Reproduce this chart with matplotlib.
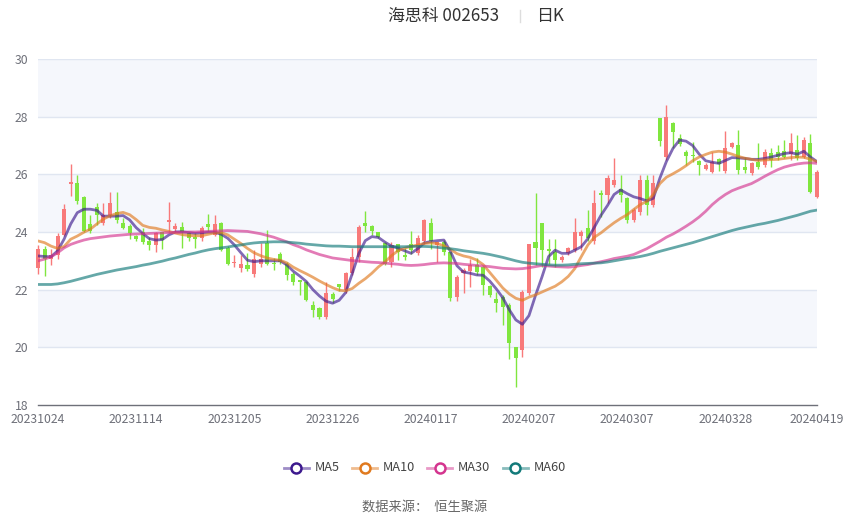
import matplotlib
matplotlib.use('Agg')
import matplotlib.pyplot as plt
from matplotlib.lines import Line2D
import numpy as np

plt.rcParams['font.family'] = ['Noto Sans CJK SC', 'DejaVu Sans']

# ---------------- data ----------------
dates = [
    '20231024', '20231025', '20231026', '20231027', '20231030', '20231031',
    '20231101', '20231102', '20231103', '20231106', '20231107', '20231108', '20231109', '20231110',
    '20231113', '20231114', '20231115', '20231116', '20231117', '20231120', '20231121', '20231122',
    '20231123', '20231124', '20231127', '20231128', '20231129', '20231130',
    '20231201', '20231204', '20231205', '20231206', '20231207', '20231208', '20231211', '20231212',
    '20231213', '20231214', '20231215', '20231218', '20231219', '20231220', '20231221', '20231222',
    '20231225', '20231226', '20231227', '20231228', '20231229',
    '20240102', '20240103', '20240104', '20240105', '20240108', '20240109', '20240110', '20240111',
    '20240112', '20240115', '20240116', '20240117', '20240118', '20240119', '20240122', '20240123',
    '20240124', '20240125', '20240126', '20240129', '20240130', '20240131',
    '20240201', '20240202', '20240205', '20240206', '20240207', '20240208', '20240219', '20240220',
    '20240221', '20240222', '20240223', '20240226', '20240227', '20240228', '20240229',
    '20240301', '20240304', '20240305', '20240306', '20240307', '20240308', '20240311', '20240312',
    '20240313', '20240314', '20240315', '20240318', '20240319', '20240320', '20240321', '20240322',
    '20240325', '20240326', '20240327', '20240328', '20240329',
    '20240401', '20240402', '20240403', '20240408', '20240409', '20240410', '20240411', '20240412',
    '20240415', '20240416', '20240417', '20240418', '20240419',
]

opens = [22.76, 23.40, 23.05, 23.20, 23.90, 25.68, 25.70, 25.20, 24.27, 24.87,
         24.30, 24.60, 24.69, 24.30, 24.20, 23.87, 24.01, 23.70, 23.55, 23.99,
         24.35, 24.09, 24.18, 23.95, 23.84, 23.78, 24.27, 23.90, 24.30, 23.43,
         22.92, 22.75, 22.86, 22.54, 22.89, 23.63, 22.93, 23.24, 22.90, 22.54,
         22.33, 22.28, 21.47, 21.35, 21.06, 21.84, 22.18, 21.99, 22.57, 23.14,
         24.30, 24.22, 24.01, 23.63, 22.97, 23.57, 23.20, 23.57, 23.26, 23.70,
         24.30, 23.55, 23.66, 23.32, 21.76, 22.57, 22.66, 22.86, 22.80, 22.13,
         21.66, 21.76, 21.47, 20.02, 19.90, 21.87, 23.66, 24.30, 23.40, 23.31,
         23.03, 23.26, 23.37, 23.86, 24.13, 23.70, 25.36, 25.28, 25.63, 25.50,
         25.19, 24.42, 24.70, 25.80, 24.94, 27.97, 26.61, 27.79, 27.27, 26.79,
         26.66, 26.46, 26.20, 26.09, 26.52, 26.10, 26.96, 27.02, 26.27, 26.06,
         26.44, 26.32, 26.73, 26.79, 26.81, 26.69, 26.84, 26.61, 27.10, 25.22]
closes = [23.42, 23.05, 23.20, 23.86, 24.81, 25.74, 25.08, 24.03, 24.03, 24.60,
          24.60, 25.00, 24.40, 24.15, 23.98, 23.75, 23.66, 23.55, 23.95, 23.72,
          24.40, 24.21, 24.01, 23.80, 23.75, 24.13, 24.18, 24.28, 23.38, 22.89,
          22.95, 22.90, 22.70, 23.05, 23.05, 22.89, 22.88, 22.97, 22.50, 22.28,
          22.28, 21.64, 21.29, 21.06, 21.90, 21.68, 22.10, 22.57, 23.14, 24.18,
          24.22, 24.03, 23.84, 22.90, 23.55, 23.32, 23.15, 23.38, 23.78, 24.40,
          23.70, 23.64, 23.32, 21.70, 22.45, 22.68, 22.86, 22.62, 22.16, 21.81,
          21.55, 21.41, 20.14, 19.62, 21.93, 23.57, 23.43, 23.37, 23.33, 23.03,
          23.14, 23.43, 24.01, 24.01, 23.78, 24.99, 25.30, 25.86, 25.80, 25.28,
          24.42, 24.76, 25.80, 24.94, 25.69, 27.16, 28.00, 27.48, 27.05, 26.62,
          26.62, 26.32, 26.32, 26.44, 26.36, 26.90, 27.10, 26.15, 26.15, 26.40,
          26.27, 26.79, 26.50, 26.61, 26.61, 27.10, 26.55, 27.19, 25.40, 26.09]
highs = [23.55, 23.50, 23.40, 23.98, 24.96, 26.35, 25.96, 25.25, 24.60, 25.02,
         25.00, 25.39, 25.39, 24.50, 24.27, 23.90, 24.13, 23.84, 24.01, 24.00,
         25.05, 24.30, 24.36, 24.00, 23.95, 24.20, 24.62, 24.60, 24.35, 23.50,
         23.20, 23.20, 23.26, 23.37, 23.63, 24.07, 23.09, 23.30, 22.95, 22.60,
         22.35, 22.30, 21.60, 21.40, 22.27, 21.93, 22.20, 22.60, 23.43, 24.24,
         24.73, 24.24, 24.01, 23.66, 23.66, 23.60, 23.43, 24.03, 23.90, 24.45,
         24.50, 23.66, 23.72, 23.32, 22.51, 22.74, 23.05, 23.09, 22.82, 22.16,
         21.93, 21.82, 21.53, 20.02, 21.99, 23.60, 25.36, 24.30, 23.75, 23.75,
         23.20, 23.49, 24.47, 24.07, 24.76, 25.46, 25.46, 25.98, 26.55, 25.98,
         25.23, 24.82, 25.98, 25.98, 25.98, 27.97, 28.40, 27.80, 27.40, 26.85,
         27.13, 26.50, 26.38, 26.79, 26.55, 27.50, 27.13, 27.54, 26.60, 26.44,
         27.07, 26.87, 26.90, 27.02, 27.19, 27.42, 27.36, 27.30, 27.40, 26.15]
lows = [22.55, 22.47, 22.85, 23.05, 23.85, 25.25, 24.96, 24.00, 23.95, 24.23,
        24.23, 24.50, 24.30, 24.10, 23.77, 23.70, 23.60, 23.38, 23.32, 23.40,
        24.01, 24.00, 23.43, 23.70, 23.43, 23.70, 24.05, 23.86, 23.35, 22.85,
        22.80, 22.62, 22.66, 22.43, 22.80, 22.85, 22.68, 22.90, 22.33, 22.16,
        21.80, 21.60, 21.06, 21.00, 21.00, 21.55, 21.95, 21.90, 22.50, 22.97,
        24.01, 23.90, 23.78, 22.85, 22.80, 23.03, 23.03, 23.23, 23.20, 23.58,
        23.40, 22.97, 23.20, 21.60, 21.62, 21.87, 22.10, 22.50, 21.81, 21.73,
        21.24, 20.77, 19.58, 18.64, 19.67, 21.80, 22.85, 22.80, 22.90, 22.80,
        22.97, 23.20, 23.30, 23.37, 23.70, 23.60, 24.53, 24.99, 25.57, 25.05,
        24.30, 24.35, 24.60, 24.59, 24.88, 27.00, 26.50, 26.90, 27.00, 26.32,
        26.44, 25.98, 26.15, 26.03, 26.10, 26.03, 26.90, 26.00, 26.04, 25.96,
        26.20, 26.25, 26.27, 26.50, 26.55, 26.50, 26.50, 26.55, 25.36, 25.17]

ma5 = [23.17, 23.15, 23.14, 23.35, 23.76, 24.28, 24.67, 24.79, 24.79, 24.75,
       24.55, 24.55, 24.55, 24.57, 24.42, 24.15, 23.95, 23.77, 23.72, 23.74,
       23.90, 24.00, 24.01, 23.98, 23.95, 23.97, 23.99, 23.99, 23.92, 23.78,
       23.55, 23.28, 23.02, 22.97, 23.00, 23.00, 23.00, 23.00, 22.86, 22.64,
       22.47, 22.28, 22.00, 21.78, 21.60, 21.53, 21.63, 21.90, 22.55, 23.25,
       23.70, 23.84, 23.81, 23.65, 23.51, 23.44, 23.35, 23.26, 23.42, 23.62,
       23.67, 23.70, 23.72, 23.33, 22.83, 22.61, 22.57, 22.51, 22.50, 22.30,
       22.03, 21.72, 21.30, 20.95, 20.80, 21.10, 21.80, 22.45, 23.15, 23.37,
       23.26, 23.26, 23.37, 23.49, 23.77, 24.17, 24.58, 24.92, 25.30, 25.46,
       25.33, 25.22, 25.16, 25.08, 25.17, 25.87, 26.45, 26.90, 27.19, 27.15,
       27.00, 26.70, 26.47, 26.42, 26.38, 26.48, 26.58, 26.57, 26.55, 26.52,
       26.52, 26.55, 26.60, 26.66, 26.72, 26.75, 26.70, 26.80, 26.60, 26.44]
ma10 = [23.69, 23.63, 23.51, 23.43, 23.50, 23.75, 23.86, 23.99, 24.10, 24.28,
        24.45, 24.56, 24.64, 24.68, 24.60, 24.43, 24.23, 24.16, 24.13, 24.07,
        24.02, 23.96, 23.91, 23.88, 23.87, 23.87, 23.92, 23.97, 23.98, 23.90,
        23.75, 23.60, 23.43, 23.28, 23.18, 23.10, 23.05, 23.02, 22.93, 22.78,
        22.66, 22.55, 22.43, 22.30, 22.18, 22.07, 21.98, 21.96, 22.04, 22.22,
        22.38, 22.57, 22.79, 22.96, 23.18, 23.35, 23.44, 23.50, 23.55, 23.60,
        23.62, 23.60, 23.52, 23.40, 23.25, 23.17, 23.12, 23.03, 22.87, 22.60,
        22.33, 22.06, 21.85, 21.70, 21.63, 21.74, 21.82, 21.92, 22.02, 22.12,
        22.27, 22.46, 22.73, 23.15, 23.55, 23.82, 23.97, 24.15, 24.32, 24.47,
        24.60, 24.78, 24.95, 25.06, 25.30, 25.68, 25.90, 26.02, 26.15, 26.30,
        26.47, 26.60, 26.69, 26.77, 26.80, 26.77, 26.70, 26.62, 26.56, 26.52,
        26.48, 26.50, 26.51, 26.52, 26.55, 26.58, 26.60, 26.59, 26.52, 26.44]
ma30 = [23.00, 23.06, 23.14, 23.28, 23.45, 23.57, 23.65, 23.72, 23.77, 23.80,
        23.83, 23.86, 23.88, 23.90, 23.92, 23.93, 23.94, 23.95, 23.96, 23.97,
        23.98, 23.99, 23.99, 24.00, 24.00, 24.01, 24.02, 24.03, 24.04, 24.05,
        24.04, 24.03, 24.02, 23.98, 23.94, 23.88, 23.82, 23.74, 23.66, 23.56,
        23.48, 23.38, 23.30, 23.22, 23.16, 23.10, 23.07, 23.04, 23.01, 22.99,
        22.97, 22.95, 22.94, 22.92, 22.90, 22.88, 22.85, 22.84, 22.85, 22.87,
        22.90, 22.92, 22.93, 22.92, 22.91, 22.88, 22.86, 22.84, 22.82, 22.80,
        22.77, 22.74, 22.73, 22.72, 22.73, 22.76, 22.80, 22.84, 22.82, 22.80,
        22.79, 22.78, 22.80, 22.84, 22.87, 22.92, 22.97, 23.02, 23.08, 23.12,
        23.16, 23.22, 23.32, 23.42, 23.55, 23.68, 23.82, 23.93, 24.06, 24.20,
        24.35, 24.52, 24.72, 24.95, 25.14, 25.30, 25.43, 25.52, 25.60, 25.68,
        25.80, 25.93, 26.05, 26.16, 26.25, 26.31, 26.36, 26.39, 26.40, 26.38]
ma60 = [22.18, 22.18, 22.18, 22.20, 22.24, 22.29, 22.35, 22.41, 22.47, 22.53,
        22.58, 22.63, 22.68, 22.72, 22.76, 22.80, 22.85, 22.89, 22.94, 22.99,
        23.05, 23.10, 23.16, 23.22, 23.27, 23.33, 23.38, 23.42, 23.45, 23.48,
        23.52, 23.55, 23.59, 23.62, 23.64, 23.65, 23.66, 23.66, 23.65, 23.63,
        23.61, 23.58, 23.56, 23.54, 23.52, 23.51, 23.51, 23.50, 23.49, 23.49,
        23.49, 23.49, 23.49, 23.49, 23.49, 23.49, 23.49, 23.50, 23.50, 23.50,
        23.49, 23.47, 23.44, 23.42, 23.39, 23.35, 23.32, 23.29, 23.26, 23.22,
        23.17, 23.12, 23.06, 23.00, 22.95, 22.92, 22.90, 22.88, 22.86, 22.85,
        22.85, 22.86, 22.88, 22.90, 22.91, 22.92, 22.93, 22.96, 23.00, 23.04,
        23.08, 23.11, 23.15, 23.20, 23.26, 23.33, 23.39, 23.45, 23.51, 23.57,
        23.63, 23.70, 23.77, 23.84, 23.91, 23.98, 24.05, 24.11, 24.16, 24.21,
        24.26, 24.30, 24.35, 24.40, 24.46, 24.52, 24.58, 24.65, 24.72, 24.76]

tick_idx = [0, 15, 30, 45, 60, 75, 90, 105, 119]
y_ticks = [18, 20, 22, 24, 26, 28, 30]

ma_names = ['MA5', 'MA10', 'MA30', 'MA60']
ma_colors = ['#3d1a8e', '#e07a1f', '#d4358f', '#137a7a']

# ---------------- figure ----------------
W, H = 850, 517
fig = plt.figure(figsize=(W / 100, H / 100), dpi=100)
ax = fig.add_axes([38 / W, 1 - 405 / H, (817 - 38) / W, (405 - 59) / H])

x = np.arange(len(dates))
o = np.array(opens); c = np.array(closes)
hi = np.array(highs); lo = np.array(lows)
up = c >= o
cols = np.where(up, '#f87a7a', '#80e63f')

# background bands and grid
for y0 in [20, 24, 28]:
    ax.axhspan(y0, y0 + 2, color='#f5f7fc', zorder=0, lw=0)
for yt in y_ticks[1:]:
    ax.axhline(yt, color='#e0e6f1', lw=1, zorder=0.5)

# candles
ax.vlines(x, lo, hi, colors=cols, lw=1, zorder=2, clip_on=False)
body_h = np.where(np.abs(c - o) < 0.03, 0.03, c - o)
ax.bar(x, body_h, bottom=o, width=0.62, color=cols, zorder=2.5, lw=0, clip_on=False)

# moving averages
for vals, col in zip([ma5, ma10, ma30, ma60], ma_colors):
    ax.plot(x, vals, color=col, lw=2, alpha=0.65, zorder=3, solid_capstyle='round')

ax.set_xlim(0, len(dates) - 1)
ax.set_ylim(18, 30)
ax.set_yticks(y_ticks)
ax.set_yticklabels([str(v) for v in y_ticks])
ax.set_xticks(tick_idx)
ax.set_xticklabels([dates[i] for i in tick_idx])
ax.tick_params(axis='both', length=0, labelsize=8.8, labelcolor='#6e7079')
ax.tick_params(axis='y', pad=7)
ax.tick_params(axis='x', pad=5.5)
for s in ['top', 'right', 'left']:
    ax.spines[s].set_visible(False)
ax.spines['bottom'].set_color('#6e7079')
ax.spines['bottom'].set_linewidth(1)
ax.set_facecolor('white')

# title
fig.text(444 / W, 1 - 16 / H, '海思科 002653', ha='center', va='center',
         fontsize=12.2, color='#333333')
fig.add_artist(Line2D([520 / W, 520 / W], [1 - 10 / H, 1 - 22 / H],
                      transform=fig.transFigure, color='#dddddd', lw=1))
fig.text(550 / W, 1 - 16 / H, '日K', ha='center', va='center',
         fontsize=12.2, color='#333333')

# legend
leg_y = 1 - 467.5 / H
icon_centers = [296, 364.5, 439.5, 515]
text_starts = [314.5, 382.5, 458, 533.5]
for name, col, cx, tx in zip(ma_names, ma_colors, icon_centers, text_starts):
    fig.add_artist(Line2D([(cx - 12.5) / W, (cx + 12.5) / W], [leg_y, leg_y],
                          transform=fig.transFigure, color=col, lw=2, alpha=0.5))
    fig.add_artist(Line2D([cx / W], [leg_y], transform=fig.transFigure,
                          marker='o', markersize=7.2, mfc='white', mec=col, mew=1.8))
    fig.text(tx / W, leg_y, name, ha='left', va='center', fontsize=9.2, color='#444444')

# source
fig.text(425 / W, 1 - 507 / H, '数据来源：  恒生聚源', ha='center', va='center',
         fontsize=9.5, color='#666666')

fig.savefig('out.png', dpi=100, facecolor='white')
